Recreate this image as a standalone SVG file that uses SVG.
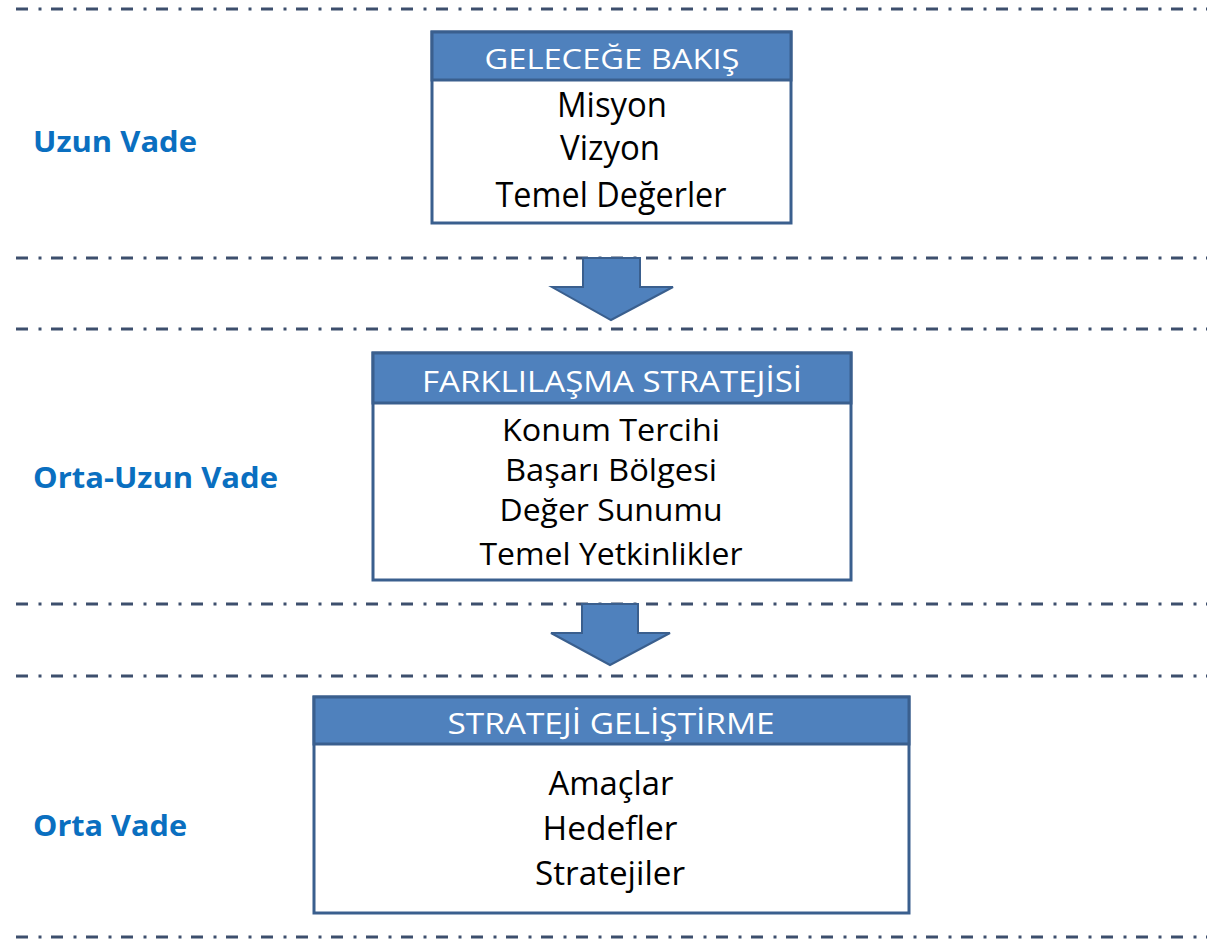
<svg xmlns="http://www.w3.org/2000/svg" width="1215" height="939" viewBox="0 0 1215 939">
<style>
.sep{stroke:#3d4f6d;stroke-width:3;stroke-dasharray:12 10.5 3 9.5;fill:none}
.box{fill:#ffffff;stroke:#3a5f8e;stroke-width:3}
.hdr{fill:#4f81bd;stroke:#3a5f8e;stroke-width:3}
.ht{font-family:"Open Sans","Noto Sans",sans-serif;fill:#ffffff;text-anchor:middle}
.bt{font-family:"Open Sans","Noto Sans",sans-serif;fill:#000000;text-anchor:middle}
.lbl{font-family:"Open Sans","Noto Sans",sans-serif;font-weight:bold;fill:#0a6fc0;font-size:29px}
.arr{fill:#4f81bd;stroke:#3a5f8e;stroke-width:2;stroke-linejoin:miter}
</style>
<rect width="1215" height="939" fill="#ffffff"/>
<g id="separators">
<line class="sep" x1="16" y1="9" x2="1207" y2="9"/>
<line class="sep" x1="16" y1="258" x2="1207" y2="258"/>
<line class="sep" x1="16" y1="329" x2="1207" y2="329"/>
<line class="sep" x1="16" y1="604" x2="1207" y2="604"/>
<line class="sep" x1="16" y1="676" x2="1207" y2="676"/>
<line class="sep" x1="16" y1="937" x2="1207" y2="937"/>
</g>
<g id="labels">
<text class="lbl" x="33" y="152" textLength="164" lengthAdjust="spacingAndGlyphs">Uzun Vade</text>
<text class="lbl" x="33" y="488" textLength="245" lengthAdjust="spacingAndGlyphs">Orta-Uzun Vade</text>
<text class="lbl" x="33" y="836" textLength="154" lengthAdjust="spacingAndGlyphs">Orta Vade</text>
</g>
<g id="node-gelecege-bakis">
<rect class="box" x="432" y="32" width="359" height="191"/>
<rect class="hdr" x="432" y="32" width="359" height="48"/>
<text class="ht" x="612" y="69" font-size="27" textLength="255" lengthAdjust="spacingAndGlyphs">GELECEĞE BAKIŞ</text>
<text class="bt" x="612" y="117" font-size="34" textLength="110" lengthAdjust="spacingAndGlyphs">Misyon</text>
<text class="bt" x="610" y="160" font-size="34" textLength="100" lengthAdjust="spacingAndGlyphs">Vizyon</text>
<text class="bt" x="611" y="207" font-size="34" textLength="231" lengthAdjust="spacingAndGlyphs">Temel Değerler</text>
</g>
<g id="node-farklilasma">
<rect class="box" x="373" y="353" width="478" height="227"/>
<rect class="hdr" x="373" y="353" width="478" height="50"/>
<text class="ht" x="612" y="392" font-size="29" textLength="380" lengthAdjust="spacingAndGlyphs">FARKLILAŞMA STRATEJİSİ</text>
<text class="bt" x="611" y="441" font-size="31" textLength="218" lengthAdjust="spacingAndGlyphs">Konum Tercihi</text>
<text class="bt" x="611" y="481" font-size="31" textLength="212" lengthAdjust="spacingAndGlyphs">Başarı Bölgesi</text>
<text class="bt" x="611" y="521" font-size="31" textLength="223" lengthAdjust="spacingAndGlyphs">Değer Sunumu</text>
<text class="bt" x="611" y="565" font-size="31" textLength="263" lengthAdjust="spacingAndGlyphs">Temel Yetkinlikler</text>
</g>
<g id="node-strateji-gelistirme">
<rect class="box" x="314" y="697" width="595" height="216"/>
<rect class="hdr" x="314" y="697" width="595" height="47"/>
<text class="ht" x="611" y="734" font-size="30" textLength="327" lengthAdjust="spacingAndGlyphs">STRATEJİ GELİŞTİRME</text>
<text class="bt" x="611" y="795" font-size="32" textLength="125" lengthAdjust="spacingAndGlyphs">Amaçlar</text>
<text class="bt" x="610" y="840" font-size="32" textLength="135" lengthAdjust="spacingAndGlyphs">Hedefler</text>
<text class="bt" x="610" y="885" font-size="32" textLength="150" lengthAdjust="spacingAndGlyphs">Stratejiler</text>
</g>
<g id="connectors">
<polygon class="arr" points="583,258 640,258 640,287 673,287 611,320 552,287 583,287"/>
<polygon class="arr" points="582,604 638,604 638,633 670,633 610,665 551,633 582,633"/>
</g>
</svg>
